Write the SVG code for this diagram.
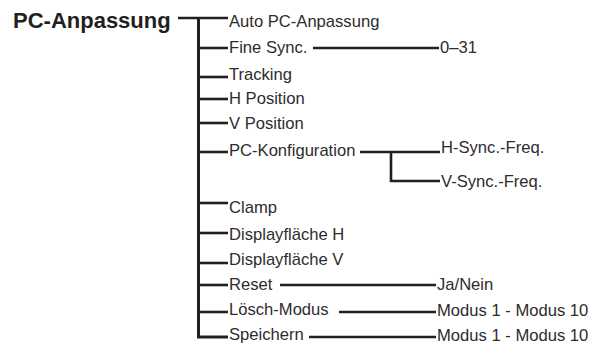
<svg xmlns="http://www.w3.org/2000/svg" width="601" height="346" viewBox="0 0 601 346">
<style>
text{font-family:"Liberation Sans",Arial,sans-serif;fill:#2e2c2d}
.t{font-size:16.6px}
.title{font-size:22px;font-weight:bold;fill:#231f20}
.c line,.c path{stroke:#231f20;stroke-width:2.6;fill:none}
.c .trunk{stroke-width:3}
</style>
<g id="connectors" class="c">
<line x1="178" y1="18" x2="228" y2="18"/>
<path class="trunk" d="M198.5 18V337H228"/>
<line x1="198.5" y1="48" x2="228" y2="48"/>
<line x1="198.5" y1="77" x2="228" y2="77"/>
<line x1="198.5" y1="99" x2="228" y2="99"/>
<line x1="198.5" y1="123" x2="228" y2="123"/>
<line x1="198.5" y1="152" x2="228" y2="152"/>
<line x1="198.5" y1="203" x2="228" y2="203"/>
<line x1="198.5" y1="233" x2="228" y2="233"/>
<line x1="198.5" y1="263" x2="228" y2="263"/>
<line x1="198.5" y1="285" x2="228" y2="285"/>
<line x1="198.5" y1="312" x2="228" y2="312"/>
<line x1="313" y1="48" x2="439" y2="48"/>
<line x1="360" y1="152" x2="440" y2="152"/>
<path d="M391 152V181H440"/>
<line x1="280" y1="285" x2="436" y2="285"/>
<line x1="339" y1="312" x2="436" y2="312"/>
<line x1="309" y1="337" x2="436" y2="337"/>
</g>
<g id="root"><text class="title" x="13" y="28">PC-Anpassung</text></g>
<g id="auto"><text class="t" x="229" y="27">Auto PC-Anpassung</text></g>
<g id="finesync"><text class="t" x="229" y="53">Fine Sync.</text></g>
<g id="finesync-val"><text class="t" x="440" y="53">0–31</text></g>
<g id="tracking"><text class="t" x="229" y="80">Tracking</text></g>
<g id="hpos"><text class="t" x="229" y="104">H Position</text></g>
<g id="vpos"><text class="t" x="229" y="129">V Position</text></g>
<g id="pckonf"><text class="t" x="229" y="156">PC-Konfiguration</text></g>
<g id="hsync"><text class="t" x="441" y="153">H-Sync.-Freq.</text></g>
<g id="vsync"><text class="t" x="441" y="187">V-Sync.-Freq.</text></g>
<g id="clamp"><text class="t" x="229" y="213">Clamp</text></g>
<g id="disph"><text class="t" x="229" y="240">Displayfläche H</text></g>
<g id="dispv"><text class="t" x="229" y="265">Displayfläche V</text></g>
<g id="reset"><text class="t" x="229" y="290">Reset</text></g>
<g id="reset-val"><text class="t" x="437" y="290">Ja/Nein</text></g>
<g id="loesch"><text class="t" x="229" y="315">Lösch-Modus</text></g>
<g id="loesch-val"><text class="t" x="437" y="316">Modus 1 - Modus 10</text></g>
<g id="speichern"><text class="t" x="229" y="340">Speichern</text></g>
<g id="speichern-val"><text class="t" x="437" y="341">Modus 1 - Modus 10</text></g>
</svg>
